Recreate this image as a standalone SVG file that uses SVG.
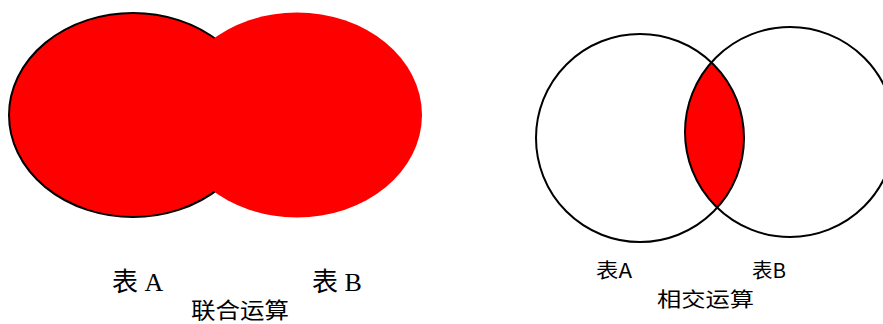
<svg xmlns="http://www.w3.org/2000/svg" width="883" height="324" viewBox="0 0 883 324">
<style>
.serif{font-family:"Liberation Serif","Noto Sans CJK SC",serif;font-size:26px;fill:#000}
.sans{font-family:"Noto Sans CJK SC",sans-serif;fill:#000}
.ring{fill:none;stroke:#000;stroke-width:2}
</style>
<rect width="883" height="324" fill="#fff"/>
<g id="union">
<g id="union-A"><ellipse cx="133" cy="115" rx="124" ry="102" fill="#ff0000" stroke="#000" stroke-width="2"/></g>
<g id="union-B"><ellipse cx="297" cy="115" rx="125" ry="102.5" fill="#ff0000"/></g>
<text class="serif" x="112" y="291">表 A</text>
<text class="serif" x="312" y="291">表 B</text>
<text class="sans" x="191" y="318" font-size="22" textLength="98" lengthAdjust="spacingAndGlyphs">联合运算</text>
</g>
<g id="intersect">
<g id="lens"><path d="M711.4,62.4 A104,104 0 0 1 717.2,207.6 A105,105 0 0 1 711.4,62.4 Z" fill="#ff0000"/></g>
<g id="inter-A"><circle class="ring" cx="640" cy="138" r="104"/></g>
<g id="inter-B"><circle class="ring" cx="790" cy="132" r="105"/></g>
<text class="sans" x="596" y="278" font-size="20" textLength="36" lengthAdjust="spacingAndGlyphs">表A</text>
<text class="sans" x="752" y="278" font-size="20" textLength="34" lengthAdjust="spacingAndGlyphs">表B</text>
<text class="sans" x="657" y="307" font-size="20" textLength="97" lengthAdjust="spacingAndGlyphs">相交运算</text>
</g>
<g id="connectors"/>
</svg>
